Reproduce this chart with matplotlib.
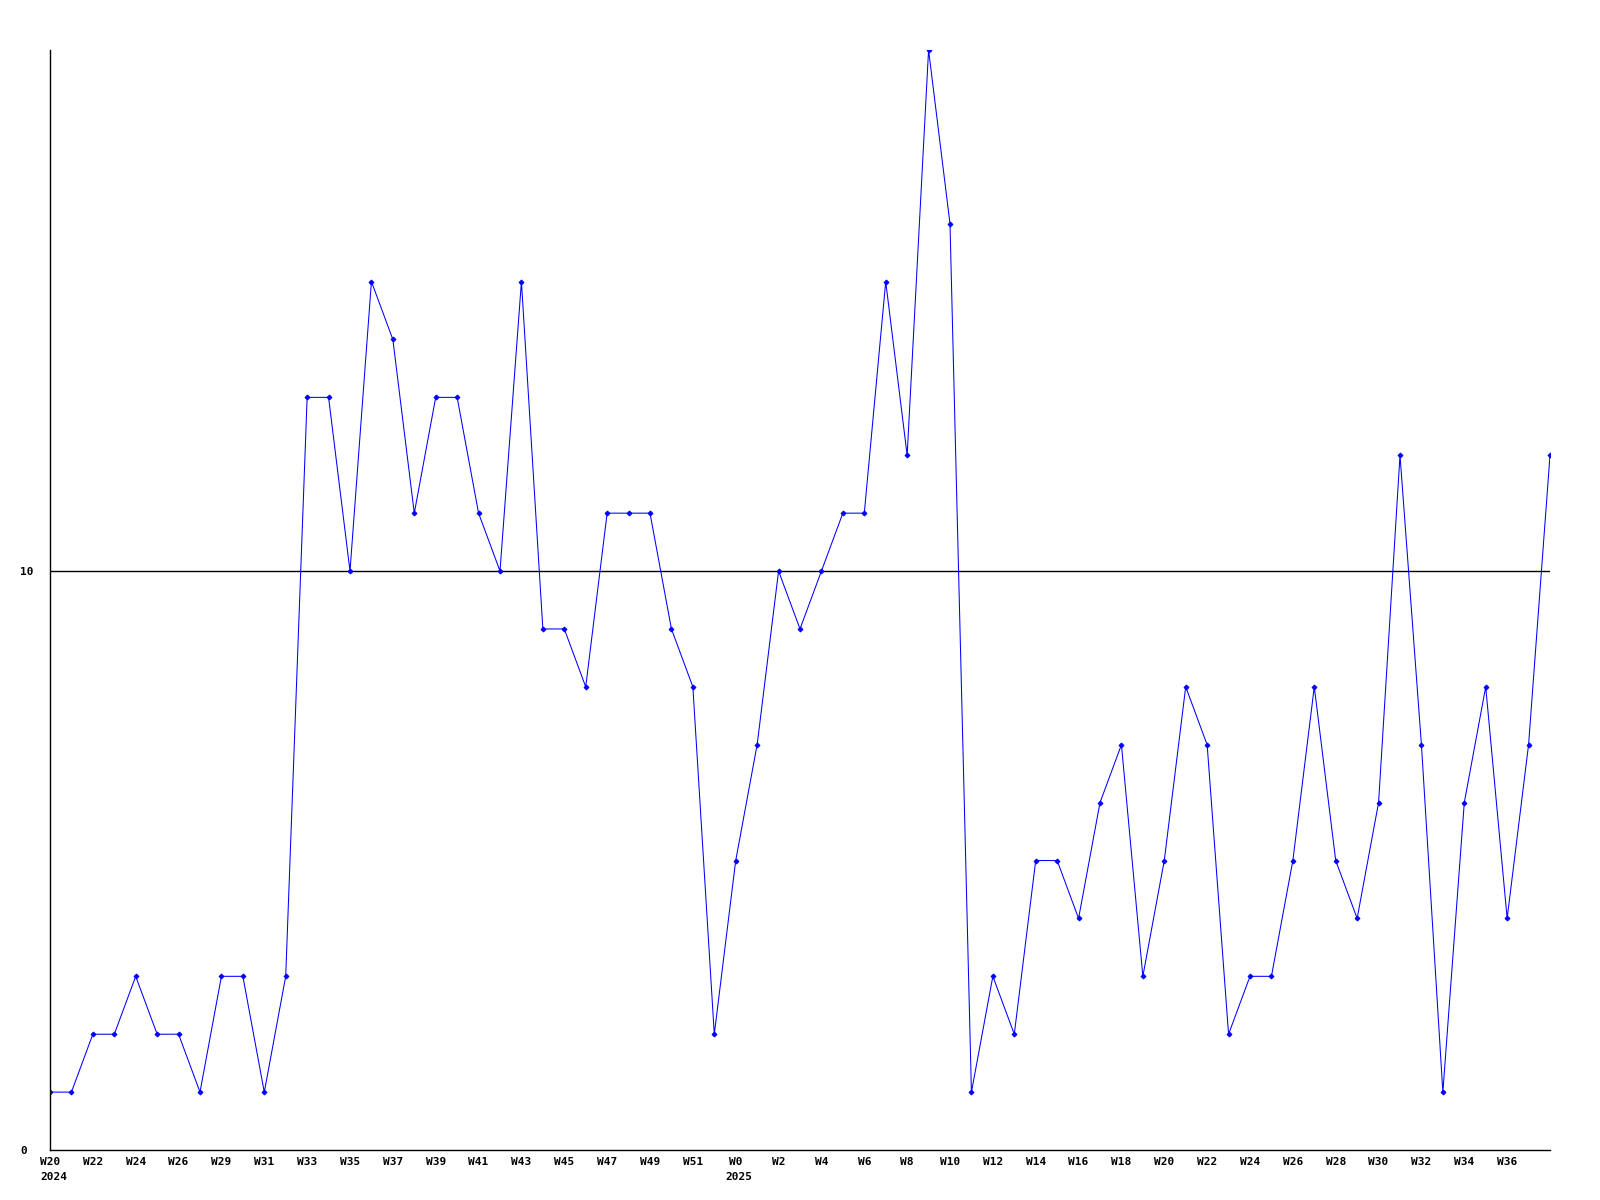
import matplotlib
matplotlib.use("Agg")
import matplotlib.pyplot as plt
from matplotlib.transforms import offset_copy

weeks = (["W20", "W21", "W22", "W23", "W24", "W25", "W26", "W28"]
         + ["W%d" % w for w in range(29, 53)]
         + ["W%d" % w for w in range(0, 39)])
values = [1, 1, 2, 2, 3, 2, 2, 1, 3, 3, 1, 3,
          13, 13, 10, 15, 14, 11, 13, 13, 11, 10, 15, 9, 9, 8,
          11, 11, 11, 9, 8, 2, 5, 7, 10, 9, 10, 11, 11, 15, 12, 19, 16,
          1, 3, 2, 5, 5, 4, 6, 7, 3, 5, 8, 7, 2, 3, 3, 5, 8, 5, 4, 6,
          12, 7, 1, 6, 8, 4, 7, 12]
year_labels = {0: "2024", 32: "2025"}
ref_value = 10
y_ticks = [0, 10]

fig = plt.figure(figsize=(16, 12), dpi=100)
ax = fig.add_axes([50/1600, 1 - 1150/1200, 1500/1600, 1100/1200])

x = list(range(len(values)))
ax.plot(x, values, color="#0000ff", lw=0.75, marker="D", markersize=2.5,
        markeredgewidth=0.7)
ax.axhline(ref_value, color="black", lw=1, zorder=0)

ax.set_xlim(0, len(values) - 1)
ax.set_ylim(0, 19)
for s in ["top", "right"]:
    ax.spines[s].set_visible(False)
for s in ["left", "bottom"]:
    ax.spines[s].set_linewidth(1)

font = dict(family="DejaVu Sans Mono", weight="bold", size=8)
tick_idx = list(range(0, len(values) - 1, 2))
ax.set_xticks(tick_idx)
ax.set_xticklabels([weeks[i] for i in tick_idx], **font)
ax.tick_params(axis="x", length=0, pad=5)

ax.set_yticks(y_ticks)
ax.set_yticklabels([str(v) for v in y_ticks], **font)
ax.tick_params(axis="y", length=0, pad=21.6)
for lab in ax.get_yticklabels():
    lab.set_horizontalalignment("left")

trans = offset_copy(ax.get_xaxis_transform(), fig=fig, x=-7.2, y=-16, units="points")
for i, yr in year_labels.items():
    ax.text(i, 0, yr, transform=trans, ha="left", va="top", **font)

fig.savefig("out.png", dpi=100)
